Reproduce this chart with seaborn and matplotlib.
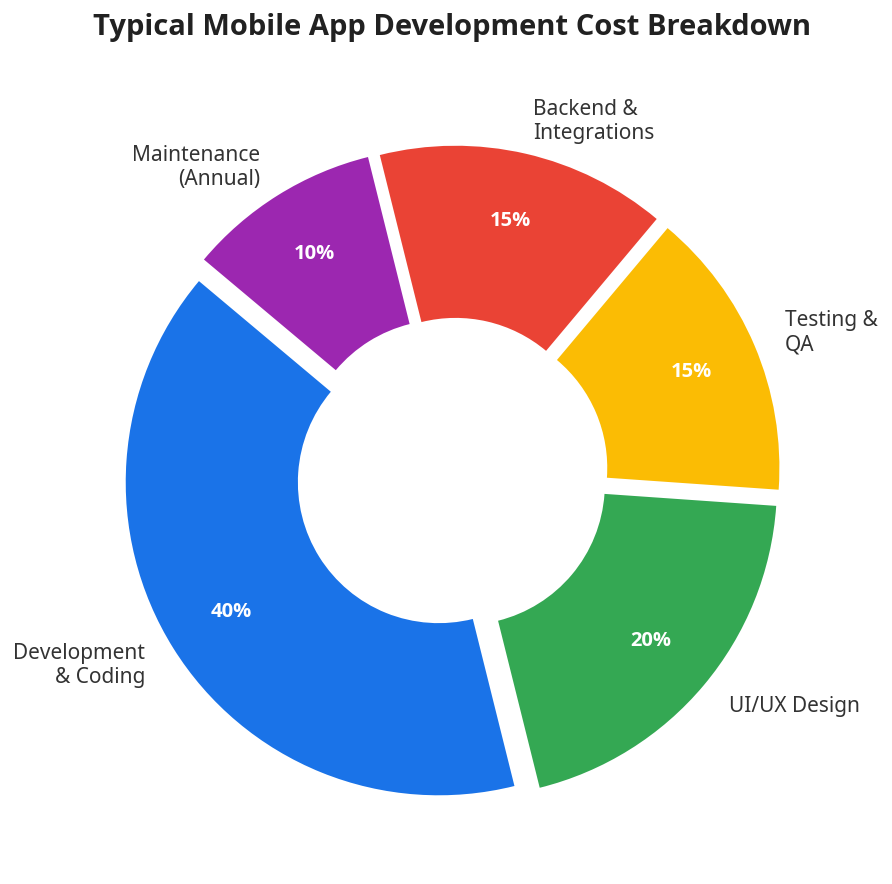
import matplotlib
matplotlib.use("Agg")
import matplotlib.pyplot as plt
import seaborn as sns

# data
categories = ["Development\n& Coding", "UI/UX Design", "Testing &\nQA",
              "Backend &\nIntegrations", "Maintenance\n(Annual)"]
shares = [40, 20, 15, 15, 10]
colors = ["#1A73E8", "#34A853", "#FBBC04", "#EA4335", "#9C27B0"]

sns.set_theme(style="white")
plt.rcParams['font.family'] = ['Noto Sans', 'DejaVu Sans']
bold_family = ['Open Sans', 'DejaVu Sans']

fig = plt.figure(figsize=(8.92, 8.84), dpi=100)
ax = fig.add_axes([0, 0, 1, 1])

wedges, texts, autotexts = ax.pie(
    shares,
    labels=categories,
    colors=colors,
    startangle=140,
    explode=[0.05] * len(shares),
    autopct='%1.0f%%',
    pctdistance=0.78,
    labeldistance=1.105,
    wedgeprops=dict(width=0.55, edgecolor='none'),
    textprops=dict(fontsize=15, color='#333333'),
)
for t in autotexts:
    t.set_color('white')
    t.set_family(bold_family)
    t.set_fontweight('bold')
    t.set_fontsize(14.5)

R = 313.0
ax.set_xlim(-452 / R, 440 / R)
ax.set_ylim(-410 / R, 474 / R)
ax.axis('off')

fig.text(452 / 892, 1 - 27 / 884, "Typical Mobile App Development Cost Breakdown",
         ha='center', va='center', fontsize=21, fontweight='bold',
         family=bold_family, color='#212121')

fig.savefig("out.png", dpi=100)
